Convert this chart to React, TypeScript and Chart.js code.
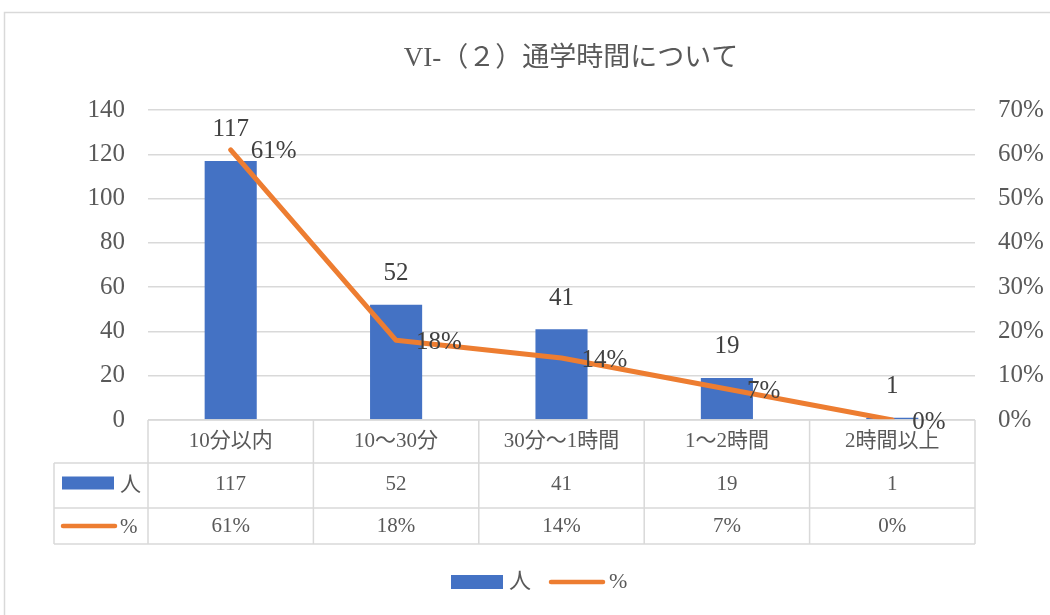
import React, { useEffect, useRef } from "react";
import { Chart, registerables } from "chart.js";

Chart.register(...registerables);

const TITLE = "VI-（２）通学時間について";
const CATEGORIES = ["10分以内", "10～30分", "30分～1時間", "1～2時間", "2時間以上"];
const PEOPLE = [117, 52, 41, 19, 1];
const PERCENT = [61, 18, 14, 7, 0];
const SERIES_PEOPLE = "人";
const SERIES_PERCENT = "%";
const LEFT_TICKS = { min: 0, max: 140, step: 20 };
const RIGHT_TICKS = { min: 0, max: 70, step: 10 };

const BLUE = "#4472C4";
const ORANGE = "#ED7D31";
const TEXT = "#595959";
const LABEL = "#404040";
const GRID = "#d9d9d9";
const FONT = "'Liberation Serif', 'Noto Sans CJK JP', serif";

const overlayPlugin = {
  id: "overlay",
  beforeDraw(chart: any) {
    const ctx = chart.ctx;
    ctx.save();
    ctx.fillStyle = "#ffffff";
    ctx.fillRect(0, 0, chart.width, chart.height);
    ctx.strokeStyle = GRID;
    ctx.lineWidth = 1.5;
    ctx.strokeRect(4.5, 12.5, chart.width + 20, chart.height + 20);
    // title
    ctx.fillStyle = TEXT;
    ctx.font = `27px ${FONT}`;
    ctx.textAlign = "center";
    ctx.textBaseline = "middle";
    ctx.fillText(TITLE, 571, 59);
    ctx.restore();
  },
  afterDraw(chart: any) {
    const ctx = chart.ctx;
    const area = chart.chartArea;
    const x = chart.scales.x;
    const n = CATEGORIES.length;
    const colW = (area.right - area.left) / n;
    const rowTop = area.bottom;
    const r1 = rowTop + 43;
    const r2 = r1 + 45;
    const r3 = r2 + 36;
    const leftCol = 54;
    ctx.save();
    ctx.strokeStyle = GRID;
    ctx.lineWidth = 1.5;
    ctx.beginPath();
    // horizontal lines
    ctx.moveTo(area.left, rowTop);
    ctx.lineTo(area.right, rowTop);
    ctx.moveTo(leftCol, r1);
    ctx.lineTo(area.right, r1);
    ctx.moveTo(leftCol, r2);
    ctx.lineTo(area.right, r2);
    ctx.moveTo(leftCol, r3);
    ctx.lineTo(area.right, r3);
    // vertical lines
    for (let i = 0; i <= n; i++) {
      const vx = area.left + colW * i;
      ctx.moveTo(vx, rowTop);
      ctx.lineTo(vx, r3);
    }
    ctx.moveTo(leftCol, r1);
    ctx.lineTo(leftCol, r3);
    ctx.stroke();

    ctx.fillStyle = TEXT;
    ctx.textAlign = "center";
    ctx.textBaseline = "middle";
    ctx.font = `21px ${FONT}`;
    for (let i = 0; i < n; i++) {
      const cx = x.getPixelForValue(i);
      ctx.fillText(CATEGORIES[i], cx, (rowTop + r1) / 2);
      ctx.fillText(String(PEOPLE[i]), cx, (r1 + r2) / 2 - 1);
      ctx.fillText(PERCENT[i] + "%", cx, (r2 + r3) / 2);
    }
    // row legend keys
    ctx.fillStyle = BLUE;
    ctx.fillRect(62, (r1 + r2) / 2 - 9, 52, 13);
    ctx.strokeStyle = ORANGE;
    ctx.lineWidth = 4.5;
    ctx.lineCap = "round";
    ctx.beginPath();
    ctx.moveTo(63, (r2 + r3) / 2);
    ctx.lineTo(115, (r2 + r3) / 2);
    ctx.stroke();
    ctx.fillStyle = TEXT;
    ctx.textAlign = "left";
    ctx.fillText(SERIES_PEOPLE, 120, (r1 + r2) / 2);
    ctx.fillText(SERIES_PERCENT, 120, (r2 + r3) / 2 + 1);

    // bottom legend
    const ly = 582;
    ctx.fillStyle = BLUE;
    ctx.fillRect(451, ly - 7, 52, 14);
    ctx.fillStyle = TEXT;
    ctx.font = `22px ${FONT}`;
    ctx.fillText(SERIES_PEOPLE, 509, ly);
    ctx.strokeStyle = ORANGE;
    ctx.lineWidth = 4.5;
    ctx.beginPath();
    ctx.moveTo(551, ly);
    ctx.lineTo(603, ly);
    ctx.stroke();
    ctx.fillStyle = TEXT;
    ctx.fillText(SERIES_PERCENT, 609, ly);

    // data labels
    ctx.font = `25px ${FONT}`;
    ctx.fillStyle = LABEL;
    const barMeta = chart.getDatasetMeta(1);
    barMeta.data.forEach((el: any, i: number) => {
      ctx.textAlign = "center";
      ctx.fillText(String(PEOPLE[i]), el.x, el.y - 31);
    });
    const lineMeta = chart.getDatasetMeta(0);
    lineMeta.data.forEach((el: any, i: number) => {
      ctx.textAlign = "left";
      ctx.fillText(PERCENT[i] + "%", el.x + 20, el.y + 2);
    });
    ctx.restore();
  },
};

export default function App() {
  const ref = useRef<HTMLCanvasElement>(null);
  useEffect(() => {
    if (!ref.current) return;
    const chart = new Chart(ref.current, {
      type: "bar",
      data: {
        labels: CATEGORIES,
        datasets: [
          {
            type: "line",
            label: SERIES_PERCENT,
            data: PERCENT,
            yAxisID: "y2",
            borderColor: ORANGE,
            backgroundColor: ORANGE,
            borderWidth: 5,
            pointRadius: 0,
            borderCapStyle: "round",
            borderJoinStyle: "round",
            tension: 0,
            order: 0,
          } as any,
          {
            type: "bar",
            label: SERIES_PEOPLE,
            data: PEOPLE,
            yAxisID: "y",
            backgroundColor: BLUE,
            barPercentage: 0.315,
            categoryPercentage: 1,
            order: 1,
          },
        ],
      },
      options: {
        animation: false,
        responsive: false,
        layout: { padding: { top: 110, bottom: 195, left: 0, right: 0 } },
        plugins: {
          legend: { display: false },
          title: { display: false },
          tooltip: { enabled: false },
        },
        scales: {
          x: { display: false, offset: true },
          y: {
            position: "left",
            min: LEFT_TICKS.min,
            max: LEFT_TICKS.max,
            ticks: {
              stepSize: LEFT_TICKS.step,
              color: TEXT,
              padding: 23,
              font: { family: FONT, size: 25 },
            },
            grid: { color: GRID, lineWidth: 1.5, drawTicks: false },
            border: { display: false },
            afterFit: (s: any) => {
              s.width = 148;
            },
          },
          y2: {
            position: "right",
            min: RIGHT_TICKS.min,
            max: RIGHT_TICKS.max,
            ticks: {
              stepSize: RIGHT_TICKS.step,
              color: TEXT,
              padding: 23,
              font: { family: FONT, size: 25 },
              callback: (v: any) => v + "%",
            },
            grid: { drawOnChartArea: false, drawTicks: false },
            border: { display: false },
            afterFit: (s: any) => {
              s.width = 75;
            },
          },
        },
      },
      plugins: [overlayPlugin],
    });
    return () => chart.destroy();
  }, []);
  return (
    <div style={{ position: "fixed", left: 0, top: 0, width: 1050, height: 615, background: "#fff" }}>
      <canvas ref={ref} width={1050} height={615} />
    </div>
  );
}
